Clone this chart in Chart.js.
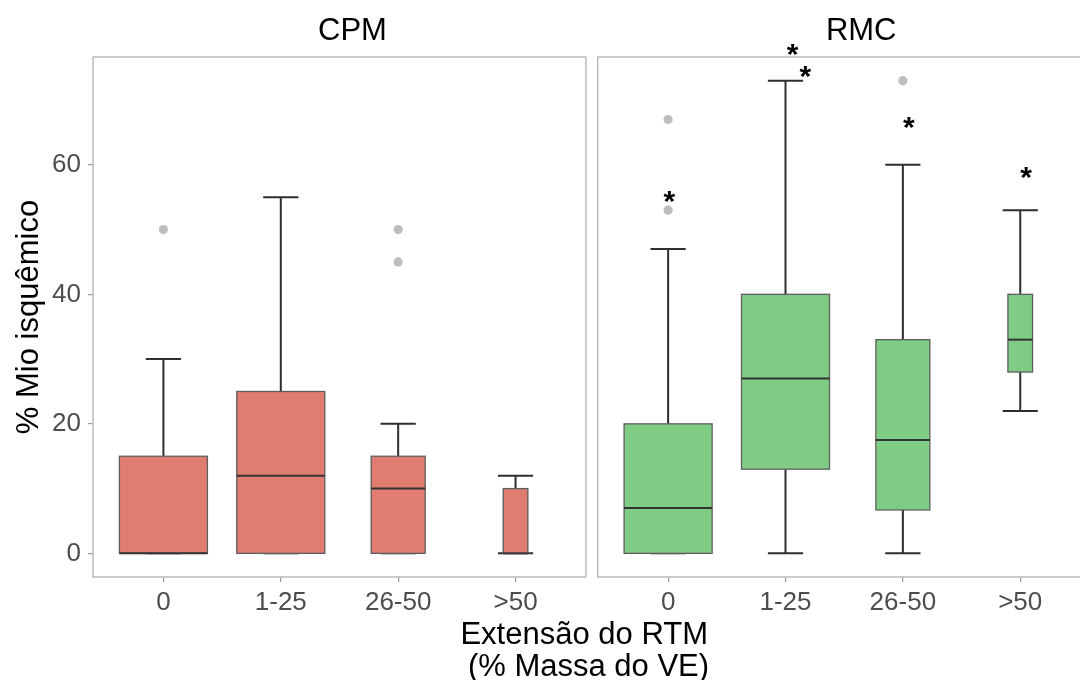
<!DOCTYPE html>
<html>
<head>
<meta charset="utf-8">
<script src="https://cdn.jsdelivr.net/npm/chart.js@4.4.1/dist/chart.umd.min.js"></script>
<style>
  html, body { margin: 0; padding: 0; background: #fff; overflow: hidden; }
  #wrap { position: relative; width: 1080px; height: 680px; }
</style>
</head>
<body>
<div id="wrap"><canvas id="boxChart" width="1080" height="680"></canvas></div>
<script>
const categories = ['0', '1-25', '26-50', '>50']
const panelNames = ['CPM', 'RMC']

// CPM panel
const cpmLow = [0, 0, 0, 0]
const cpmQ1 = [0, 0, 0, 0]
const cpmMedian = [0, 12, 10, 0]
const cpmQ3 = [15, 25, 15, 10]
const cpmHigh = [30, 55, 20, 12]
const cpmOutliers = [[50], [], [45, 50], []]

// RMC panel
const rmcLow = [0, 0, 0, 22]
const rmcQ1 = [0, 13, 6.7, 28]
const rmcMedian = [7, 27, 17.5, 33]
const rmcQ3 = [20, 40, 33, 40]
const rmcHigh = [47, 73, 60, 53]
const rmcOutliers = [[53, 67], [], [73], []]

// asterisks in the RMC panel: category index (+ small nudge) and value
const starCat = [0.01, 1.06, 1.17, 2.05, 3.05]
const starValue = [55.1, 77.8, 74.4, 66.4, 58.7]

const yTicks = [0, 20, 40, 60]

// layout / style
const panelShift = 4.3
const boxWidth = [0.75, 0.75, 0.46, 0.21]
const capWidth = 0.3
const fills = ['#E07C70', '#7FCD85']
const stripNudge = [13, 17]
const FONT = "'Liberation Sans', Arial, Helvetica, sans-serif"

const panelStats = [
    {low: cpmLow, q1: cpmQ1, med: cpmMedian, q3: cpmQ3, high: cpmHigh, out: cpmOutliers},
    {low: rmcLow, q1: rmcQ1, med: rmcMedian, q3: rmcQ3, high: rmcHigh, out: rmcOutliers}
]

const xPos = (p, i) => i + 1 + p * panelShift

const xTickPos = []
const xTickLab = []
panelNames.forEach((name, p) => {
    categories.forEach((c, i) => {
        xTickPos.push(xPos(p, i))
        xTickLab.push(c)
    })
})

const outlierPoints = (p) => {
    let pts = []
    panelStats[p].out.forEach((vals, i) => {
        vals.forEach(v => pts.push({x: xPos(p, i), y: v}))
    })
    return pts
}

const line = (ctx, x1, y1, x2, y2) => {
    ctx.beginPath()
    ctx.moveTo(x1, y1)
    ctx.lineTo(x2, y2)
    ctx.stroke()
}

const facetPlugin = {
    id: 'facets',
    beforeDatasetsDraw(chart) {
        const {ctx, chartArea, scales: {x, y}} = chart
        ctx.save()
        // panel frames
        ctx.strokeStyle = '#B3B3B3'
        ctx.lineWidth = 1.3
        panelNames.forEach((name, p) => {
            const l = x.getPixelForValue(0.4 + p * panelShift)
            const r = x.getPixelForValue(4.6 + p * panelShift)
            ctx.strokeRect(l, chartArea.top, r - l, chartArea.bottom - chartArea.top)
        })
        // boxes
        panelStats.forEach((s, p) => {
            categories.forEach((c, i) => {
                const cx = x.getPixelForValue(xPos(p, i))
                const cl = x.getPixelForValue(xPos(p, i) - capWidth / 2)
                const cr = x.getPixelForValue(xPos(p, i) + capWidth / 2)
                const bl = x.getPixelForValue(xPos(p, i) - boxWidth[i] / 2)
                const br = x.getPixelForValue(xPos(p, i) + boxWidth[i] / 2)
                ctx.strokeStyle = '#2E2E2E'
                ctx.lineWidth = 2
                line(ctx, cx, y.getPixelForValue(s.low[i]), cx, y.getPixelForValue(s.high[i]))
                line(ctx, cl, y.getPixelForValue(s.low[i]), cr, y.getPixelForValue(s.low[i]))
                line(ctx, cl, y.getPixelForValue(s.high[i]), cr, y.getPixelForValue(s.high[i]))
                const top = y.getPixelForValue(s.q3[i])
                const bot = y.getPixelForValue(s.q1[i])
                ctx.fillStyle = fills[p]
                ctx.fillRect(bl, top, br - bl, bot - top)
                ctx.strokeStyle = '#5E5E5E'
                ctx.lineWidth = 1.3
                ctx.strokeRect(bl, top, br - bl, bot - top)
                ctx.strokeStyle = '#333333'
                ctx.lineWidth = 2
                line(ctx, bl, y.getPixelForValue(s.med[i]), br, y.getPixelForValue(s.med[i]))
            })
        })
        ctx.restore()
    },
    afterDatasetsDraw(chart) {
        const {ctx, scales: {x, y}} = chart
        ctx.save()
        ctx.fillStyle = '#000'
        ctx.font = 'bold 30px ' + FONT
        ctx.textAlign = 'center'
        ctx.textBaseline = 'alphabetic'
        const m = ctx.measureText('*')
        starCat.forEach((c, k) => {
            const px = x.getPixelForValue(1 + c + panelShift)
            const py = y.getPixelForValue(starValue[k])
            ctx.fillText('*', px, py + (m.actualBoundingBoxAscent - m.actualBoundingBoxDescent) / 2)
        })
        // strip labels
        ctx.font = '31px ' + FONT
        ctx.textBaseline = 'middle'
        panelNames.forEach((name, p) => {
            ctx.fillText(name, x.getPixelForValue(2.5 + p * panelShift) + stripNudge[p], 31)
        })
        ctx.restore()
    }
}

const boxChart = new Chart(document.getElementById('boxChart'), {
    type: 'scatter',
    data: {
        datasets: [{
            data: outlierPoints(0),
            backgroundColor: '#BEBEBE',
            borderWidth: 0,
            pointRadius: 4.6,
            pointHoverRadius: 4.6
        }, {
            data: outlierPoints(1),
            backgroundColor: '#BEBEBE',
            borderWidth: 0,
            pointRadius: 4.6,
            pointHoverRadius: 4.6
        }]
    },
    options: {
        responsive: false,
        animation: false,
        layout: {padding: {top: 57, left: 0, right: 0, bottom: 0}},
        plugins: {legend: {display: false}, tooltip: {enabled: false}},
        scales: {
            x: {
                type: 'linear',
                min: 0.4,
                max: 8.77,
                afterBuildTicks: (s) => { s.ticks = xTickPos.map(v => ({value: v})) },
                afterFit: (s) => { s.height = 103 },
                ticks: {
                    callback: (v) => xTickLab[xTickPos.indexOf(v)],
                    font: {family: FONT, size: 26},
                    color: '#4D4D4D',
                    padding: 5,
                    maxRotation: 0,
                    autoSkip: false
                },
                grid: {drawOnChartArea: false, tickLength: 5, color: '#9A9A9A', lineWidth: 1.2},
                border: {display: false},
                title: {
                    display: true,
                    text: ['Extensão do RTM', ' (% Massa do VE)'],
                    font: {family: FONT, size: 31, lineHeight: '32px'},
                    color: '#000',
                    padding: {top: 0, bottom: -3}
                }
            },
            y: {
                min: -3.65,
                max: 76.65,
                afterBuildTicks: (s) => { s.ticks = yTicks.map(v => ({value: v})) },
                afterFit: (s) => { s.width = 93 },
                ticks: {
                    font: {family: FONT, size: 26},
                    color: '#4D4D4D',
                    padding: 7
                },
                grid: {drawOnChartArea: false, tickLength: 5, color: '#9A9A9A', lineWidth: 1.2},
                border: {display: false},
                title: {
                    display: true,
                    text: '% Mio isquêmico',
                    font: {family: FONT, size: 31, lineHeight: 1.2},
                    color: '#000',
                    padding: {top: 11, bottom: 0}
                }
            }
        }
    },
    plugins: [facetPlugin]
})
</script>
</body>
</html>
